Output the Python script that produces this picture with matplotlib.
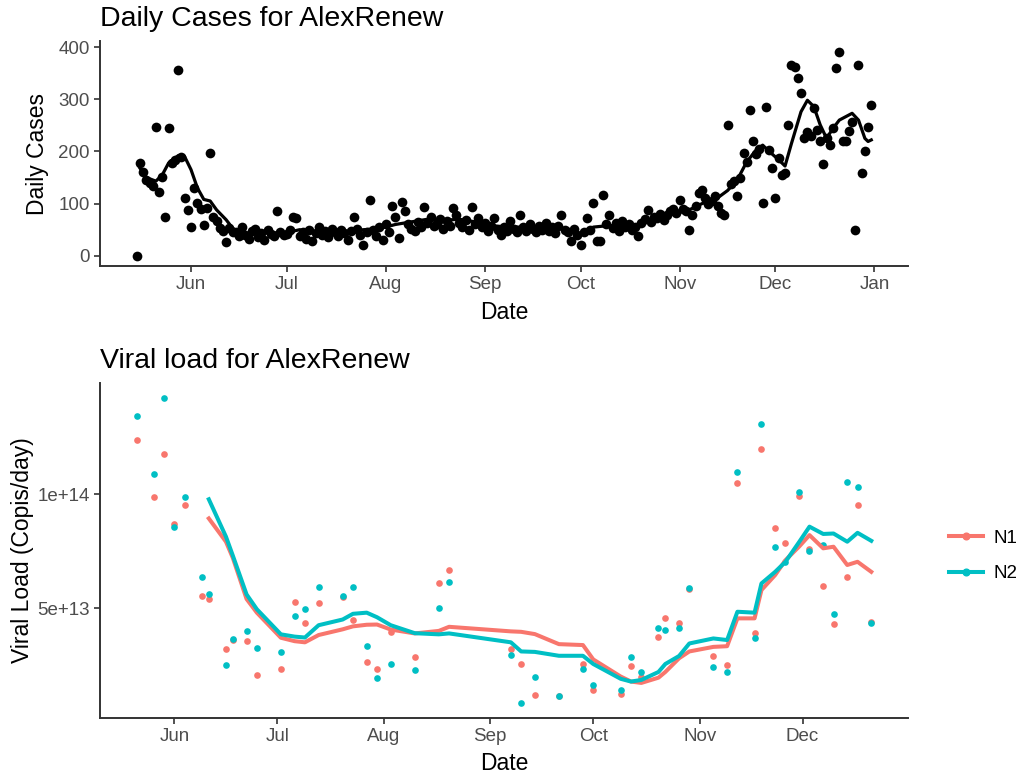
import numpy as np
import pandas as pd
import matplotlib
matplotlib.use('Agg')
import matplotlib.pyplot as plt
import matplotlib.dates as mdates
from matplotlib.lines import Line2D

plt.rcParams['font.family'] = ['Liberation Sans', 'DejaVu Sans']

# Daily cases, one value per day from 15 May to 31 Dec 2020
case_dates = pd.date_range('2020-05-15', '2020-12-31', freq='D')
cases_may = [0, 177, 161, 145, 139, 133, 247, 123, 150, 75, 244, 177, 184, 356, 190, 110, 88]
cases_jun = [56, 130, 101, 89, 59, 91, 196, 75, 66, 53, 47, 27, 53, 45, 45,
             38, 55, 40, 33, 48, 52, 36, 44, 30, 50, 42, 38, 85, 46, 40]
cases_jul = [42, 50, 75, 72, 38, 45, 33, 50, 28, 44, 55, 40, 48, 36, 52, 45,
             38, 50, 44, 31, 47, 75, 52, 40, 21, 45, 106, 50, 38, 55, 31]
cases_aug = [60, 45, 96, 75, 34, 104, 85, 60, 52, 48, 65, 55, 94, 62, 75, 58,
             60, 70, 52, 66, 58, 91, 79, 62, 55, 68, 50, 93, 60, 72, 55]
cases_sep = [62, 47, 58, 72, 50, 40, 55, 48, 66, 52, 45, 79, 55, 48, 60,
             52, 45, 57, 50, 62, 48, 55, 44, 58, 79, 50, 45, 28, 52, 40]
cases_oct = [21, 45, 72, 50, 101, 28, 28, 117, 60, 79, 53, 62, 48, 66, 55, 60,
             50, 55, 38, 62, 70, 88, 65, 75, 72, 80, 68, 79, 85, 90, 82]
cases_nov = [107, 90, 85, 50, 79, 95, 120, 127, 110, 99, 105, 115, 95, 82, 78,
             251, 137, 143, 114, 149, 197, 180, 280, 219, 195, 205, 101, 286, 203, 168]
cases_dec = [110, 187, 155, 158, 251, 366, 362, 340, 311, 225, 238, 230, 283, 241, 219, 175,
             225, 212, 244, 359, 391, 219, 219, 240, 256, 50, 366, 158, 200, 247, 288]
daily_cases = cases_may + cases_jun + cases_jul + cases_aug + cases_sep + cases_oct + cases_nov + cases_dec

# smoothed case line
avg_dates = pd.to_datetime([
    '2020-05-16', '2020-05-18', '2020-05-21', '2020-05-23', '2020-05-25', '2020-05-28',
    '2020-05-30', '2020-06-01', '2020-06-03', '2020-06-05', '2020-06-07', '2020-06-09',
    '2020-06-12', '2020-06-14', '2020-06-16', '2020-06-20', '2020-06-25', '2020-06-30',
    '2020-07-05', '2020-07-10', '2020-07-15', '2020-07-20', '2020-07-25', '2020-07-30',
    '2020-08-04', '2020-08-09', '2020-08-14', '2020-08-19', '2020-08-24', '2020-08-29',
    '2020-09-03', '2020-09-08', '2020-09-13', '2020-09-18', '2020-09-23', '2020-09-28',
    '2020-10-01', '2020-10-05', '2020-10-10', '2020-10-15', '2020-10-20', '2020-10-25',
    '2020-10-30', '2020-11-04', '2020-11-08', '2020-11-12', '2020-11-16', '2020-11-19',
    '2020-11-22', '2020-11-25', '2020-11-27', '2020-11-29', '2020-12-02', '2020-12-04',
    '2020-12-06', '2020-12-09', '2020-12-11', '2020-12-13', '2020-12-15', '2020-12-17',
    '2020-12-19', '2020-12-21', '2020-12-25', '2020-12-27', '2020-12-29', '2020-12-30',
    '2020-12-31'])
avg_cases = [168, 150, 143, 155, 178, 192,
             190, 165, 130, 108, 105, 88,
             69, 53, 45, 42, 45, 43,
             50, 44, 45, 46, 50, 52,
             60, 65, 70, 68, 70, 65,
             58, 55, 55, 52, 55, 48,
             42, 55, 58, 55, 60, 72,
             82, 88, 100, 107, 125, 145,
             180, 203, 212, 200, 184, 172,
             215, 276, 298, 286, 251, 225,
             244, 260, 273, 260, 225, 219,
             222]

# Viral load samples (copies/day)
sample_dates = pd.to_datetime([
    '2020-05-21', '2020-05-26', '2020-05-29', '2020-06-01', '2020-06-04', '2020-06-09',
    '2020-06-11', '2020-06-16', '2020-06-18', '2020-06-22', '2020-06-25', '2020-07-02',
    '2020-07-06', '2020-07-09', '2020-07-13', '2020-07-20', '2020-07-23', '2020-07-27',
    '2020-07-30', '2020-08-03', '2020-08-10', '2020-08-17', '2020-08-20', '2020-09-07',
    '2020-09-10', '2020-09-14', '2020-09-21', '2020-09-28', '2020-10-01', '2020-10-09',
    '2020-10-12', '2020-10-15', '2020-10-20', '2020-10-22', '2020-10-26', '2020-10-29',
    '2020-11-05', '2020-11-09', '2020-11-12', '2020-11-17', '2020-11-19', '2020-11-23',
    '2020-11-26', '2020-11-30', '2020-12-03', '2020-12-07', '2020-12-10', '2020-12-14',
    '2020-12-17', '2020-12-21'])
n1_load = [12.37, 9.88, 11.75, 8.68, 9.52, 5.54,
           5.38, 3.19, 3.60, 3.55, 2.06, 2.31,
           5.25, 4.36, 5.23, 5.50, 4.50, 2.65,
           2.35, 3.96, 2.87, 6.11, 6.67, 3.19,
           2.57, 1.18, 1.15, 2.57, 1.43, 1.23,
           2.46, 2.00, 3.74, 4.55, 4.33, 5.85,
           2.91, 2.50, 10.50, 3.92, 11.96, 8.49,
           7.84, 9.90, 7.60, 5.96, 4.30, 6.35,
           9.52, 4.40]
n2_load = [13.42, 10.88, 14.20, 8.54, 9.85, 6.35,
           5.64, 2.50, 3.63, 4.00, 3.23, 3.08,
           4.66, 4.94, 5.91, 5.53, 5.94, 3.33,
           1.94, 2.57, 2.28, 4.99, 6.13, 2.94,
           0.85, 1.99, 1.14, 2.35, 1.62, 1.43,
           2.87, 2.21, 4.11, 4.06, 4.11, 5.86,
           2.40, 2.21, 10.98, 3.71, 13.06, 7.69,
           7.03, 10.10, 7.51, 7.76, 4.74, 10.53,
           10.32, 4.33]

# smoothed viral load lines, from 11 Jun onwards (same sample dates)
n1_smooth = [8.93, 7.91, 7.20, 5.40, 4.80, 3.70,
             3.55, 3.50, 3.82, 4.07, 4.20, 4.27,
             4.28, 4.06, 3.89, 4.00, 4.18, 3.98,
             3.96, 3.86, 3.42, 3.38, 2.75, 2.00,
             1.78, 1.72, 1.95, 2.20, 2.80, 3.10,
             3.30, 3.33, 4.55, 4.55, 5.79, 6.45,
             7.10, 7.70, 8.20, 7.62, 7.69, 6.89,
             7.03, 6.59]
n2_smooth = [9.77, 8.13, 7.30, 5.60, 4.95, 3.85,
             3.75, 3.71, 4.25, 4.50, 4.75, 4.80,
             4.60, 4.25, 3.90, 3.85, 3.89, 3.50,
             3.10, 3.08, 2.91, 2.91, 2.55, 1.90,
             1.78, 1.85, 2.20, 2.55, 2.90, 3.45,
             3.67, 3.60, 4.84, 4.80, 6.08, 6.59,
             7.03, 7.90, 8.57, 8.25, 8.27, 7.91,
             8.30, 7.95]
smooth_start = 6  # index of 2020-06-11 in sample_dates

load_ticks = [5e13, 1e14]
load_tick_labels = ['5e+13', '1e+14']

RED = '#F8766D'
TEAL = '#00BFC4'
TICK_COL = '#4D4D4D'


def expand(lo, hi, frac=0.05):
    pad = (hi - lo) * frac
    return lo - pad, hi + pad


def style_axis(ax):
    for side in ['top', 'right']:
        ax.spines[side].set_visible(False)
    for side in ['left', 'bottom']:
        ax.spines[side].set_linewidth(1.4)
        ax.spines[side].set_color('#333333')
    ax.tick_params(length=4.5, width=1.2, color='#333333', labelcolor=TICK_COL,
                   labelsize=13.5, pad=3)
    ax.xaxis.set_major_locator(mdates.MonthLocator())
    ax.xaxis.set_major_formatter(mdates.DateFormatter('%b'))


fig = plt.figure(figsize=(10.25, 7.76), dpi=100)
ax1 = fig.add_axes([100 / 1025, 1 - 266 / 776, 808 / 1025, 224.5 / 776])
ax2 = fig.add_axes([100 / 1025, 1 - 718 / 776, 808 / 1025, 335 / 776])

# top panel: daily cases
ax1.plot(case_dates, daily_cases, 'o', color='black', markersize=7, markeredgewidth=0)
ax1.plot(avg_dates, avg_cases, color='black', linewidth=2.3)
x0, x1 = expand(mdates.date2num(case_dates.min()), mdates.date2num(case_dates.max()))
ax1.set_xlim(x0, x1)
ax1.set_ylim(*expand(min(daily_cases), max(daily_cases)))
ax1.set_yticks([0, 100, 200, 300, 400])
style_axis(ax1)
ax1.set_title('Daily Cases for AlexRenew', loc='left', fontsize=20.5, pad=11)
ax1.set_xlabel('Date', fontsize=16.5)
ax1.set_ylabel('Daily Cases', fontsize=16.5)
ax1.xaxis.set_label_coords(0.5, -0.155)
ax1.yaxis.set_label_coords(-0.063, 0.5)

# bottom panel: viral load
n1_vals = np.array(n1_load) * 1e13
n2_vals = np.array(n2_load) * 1e13
ax2.plot(sample_dates, n1_vals, 'o', color=RED, markersize=4.8, markeredgewidth=0)
ax2.plot(sample_dates, n2_vals, 'o', color=TEAL, markersize=4.8, markeredgewidth=0)
ax2.plot(sample_dates[smooth_start:], np.array(n1_smooth) * 1e13, color=RED, linewidth=2.9)
ax2.plot(sample_dates[smooth_start:], np.array(n2_smooth) * 1e13, color=TEAL, linewidth=2.9)
x0, x1 = expand(mdates.date2num(sample_dates.min()), mdates.date2num(sample_dates.max()))
ax2.set_xlim(x0, x1)
all_load = np.concatenate([n1_vals, n2_vals])
ax2.set_ylim(*expand(all_load.min(), all_load.max()))
style_axis(ax2)
ax2.set_yticks(load_ticks)
ax2.set_yticklabels(load_tick_labels)
ax2.set_title('Viral load for AlexRenew', loc='left', fontsize=20.5, pad=11)
ax2.set_xlabel('Date', fontsize=16.5)
ax2.set_ylabel('Viral Load (Copis/day)', fontsize=16.5)
ax2.xaxis.set_label_coords(0.5, -0.1)
ax2.yaxis.set_label_coords(-0.082, 0.5)

handles = [Line2D([], [], color=RED, linewidth=2.9, marker='o', markersize=4.8),
           Line2D([], [], color=TEAL, linewidth=2.9, marker='o', markersize=4.8)]
fig.legend(handles, ['N1', 'N2'], loc='center left', bbox_to_anchor=(932 / 1025, 1 - 556 / 776),
           frameon=False, fontsize=13.5, handlelength=1.8, labelspacing=1.0, handletextpad=0.6)

fig.savefig('out.png', dpi=100)
